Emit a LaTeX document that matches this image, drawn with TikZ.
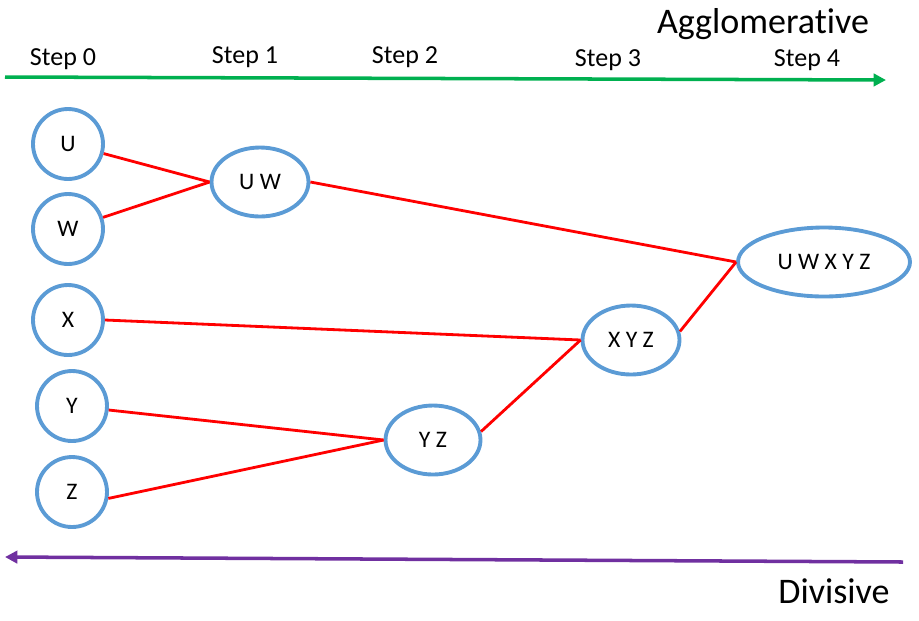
\documentclass[tikz,border=0pt]{standalone}
\usepackage{fontspec}
\setmainfont[Ligatures=NoCommon]{Carlito}
\usetikzlibrary{shapes.geometric,arrows.meta}
\definecolor{clusterblue}{RGB}{91,155,213}
\definecolor{agglogreen}{RGB}{0,176,80}
\definecolor{divipurple}{RGB}{112,48,160}
\tikzset{
	leaf/.style={circle, draw=clusterblue, line width=2.2pt, minimum size=1.4cm, inner sep=0pt, font=\fontsize{13.5}{15}\selectfont},
	merged/.style={ellipse, draw=clusterblue, line width=2.2pt, minimum height=1.38cm, inner sep=0pt, font=\fontsize{13.5}{15}\selectfont},
	link/.style={red, line width=1.6pt},
	steplabel/.style={anchor=base, font=\fontsize{14.8}{17}\selectfont},
	dirlabel/.style={anchor=base, font=\fontsize{20.5}{24}\selectfont}
}

\begin{document}
\begin{tikzpicture}[x=0.02cm, y=-0.02cm]
			%%%%% START %%%%%
			\useasboundingbox (0, 0) rectangle (919, 620);
			
			% direction arrows
			\coordinate (agglostart) at (5, 77);
			\coordinate (aggloend) at (886, 80);
			\draw[agglogreen, line width=2pt, -{Triangle[length=7pt, width=7pt]}] (agglostart) -- (aggloend);
			\coordinate (divistart) at (903, 562);
			\coordinate (diviend) at (5, 557);
			\draw[divipurple, line width=2pt, -{Triangle[length=7pt, width=7pt]}] (divistart) -- (diviend);
			
			\node[dirlabel] (aggl) at (763, 33) {Agglomerative};
			\node[dirlabel] (divi) at (834, 603) {Divisive};
			
			\node[steplabel] (step0) at (63, 65) {Step 0};
			\node[steplabel] (step1) at (245, 63) {Step 1};
			\node[steplabel] (step2) at (405, 63) {Step 2};
			\node[steplabel] (step3) at (608, 66) {Step 3};
			\node[steplabel] (step4) at (807, 66) {Step 4};
			
			% single points
			\node[leaf] (u) at (68, 144) {U};
			\node[leaf] (w) at (68, 229) {W};
			\node[leaf] (x) at (68, 320) {X};
			\node[leaf] (y) at (72, 406) {Y};
			\node[leaf] (z) at (72, 492) {Z};
			
			% clusters
			\node[merged, minimum width=1.94cm] (uw) at (260, 182) {U W};
			\node[merged, minimum width=1.9cm] (yz) at (433, 440) {Y Z};
			\node[merged, minimum width=1.94cm] (xyz) at (631, 340) {X Y Z};
			\node[merged, minimum width=3.44cm] (uwxyz) at (824, 262) {U W X Y Z};
			
			% links
			\draw[link] (u) -- (uw.west);
			\draw[link] (w) -- (uw.west);
			\draw[link] (uw.east) -- (uwxyz.west);
			\draw[link] (x.east) -- (xyz.west);
			\draw[link] (y) -- (yz.west);
			\draw[link] (z.-10) -- (yz.west);
			\draw[link] (yz.10) -- (xyz.west);
			\draw[link] (xyz.10) -- (uwxyz.west);
			%%%%% END %%%%%
\end{tikzpicture}
\end{document}
